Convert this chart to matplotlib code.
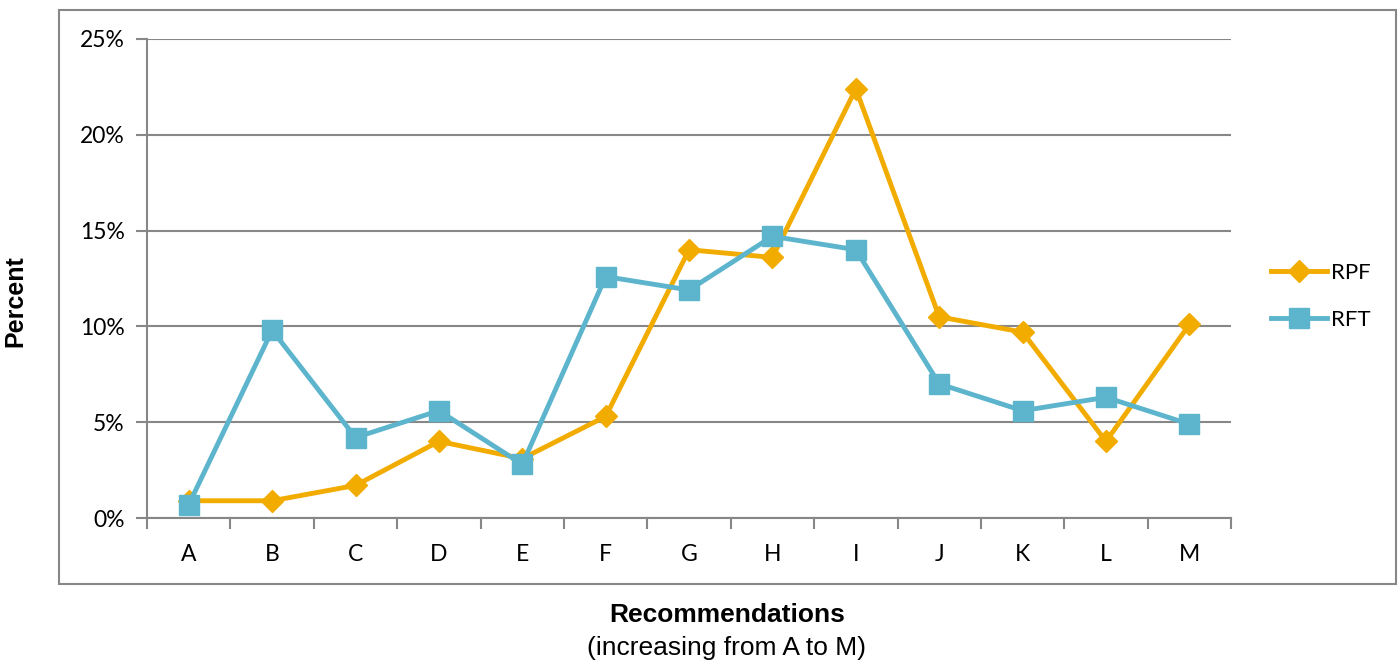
import matplotlib
matplotlib.use("Agg")
import matplotlib.pyplot as plt
from matplotlib.patches import Rectangle
from matplotlib.ticker import FuncFormatter

# recommendation categories and share of responses (%)
categories = ['A', 'B', 'C', 'D', 'E', 'F', 'G', 'H', 'I', 'J', 'K', 'L', 'M']
rpf = [0.9, 0.9, 1.7, 4.0, 3.1, 5.3, 14.0, 13.6, 22.4, 10.5, 9.7, 4.0, 10.1]
rft = [0.7, 9.8, 4.2, 5.6, 2.8, 12.6, 11.9, 14.7, 14.0, 7.0, 5.6, 6.3, 4.9]
yticks = [0, 5, 10, 15, 20, 25]

orange = '#F2AC00'
blue = '#5DB5CD'
gray = '#878787'
tick_font = 'Lato'
label_font = 'Liberation Sans'

fig = plt.figure(figsize=(13.98, 6.63), dpi=100)
ax = fig.add_axes([0.1052, 0.2187, 0.7754, 0.7225])

# outer chart frame
fig.patches.append(Rectangle((0.0422, 0.1192), 0.9564, 0.8657, transform=fig.transFigure,
                             fill=False, edgecolor=gray, linewidth=1.5))

x = list(range(len(categories)))
ax.plot(x, rpf, color=orange, linewidth=3.5, marker='D', markersize=11,
        label='RPF', zorder=3)
ax.plot(x, rft, color=blue, linewidth=3.5, marker='s', markersize=14,
        label='RFT', zorder=4)

ax.set_xlim(-0.5, len(categories) - 0.5)
ax.set_ylim(0, 25)
ax.set_yticks(yticks)
ax.yaxis.set_major_formatter(FuncFormatter(lambda v, p: '%d%%' % v))
ax.set_xticks(x)
ax.set_xticklabels(categories)
ax.set_xticks([i - 0.5 for i in range(len(categories) + 1)], minor=True)

ax.tick_params(axis='x', which='major', length=0, pad=19, labelsize=16.5)
ax.tick_params(axis='x', which='minor', length=8, width=1.5, color=gray)
ax.tick_params(axis='y', length=8, width=1.5, color=gray, pad=8, labelsize=16.5)
for lab in ax.get_xticklabels() + ax.get_yticklabels():
    lab.set_fontfamily(tick_font)

ax.grid(axis='y', color=gray, linewidth=1.5, zorder=0)
ax.set_axisbelow(True)
for side in ['top', 'right']:
    ax.spines[side].set_visible(False)
for side in ['left', 'bottom']:
    ax.spines[side].set_color(gray)
    ax.spines[side].set_linewidth(1.5)

leg = ax.legend(loc='center left', bbox_to_anchor=(0.9015, 0.553),
                bbox_transform=fig.transFigure, frameon=False, handlelength=2.5,
                handletextpad=0.2, labelspacing=1.2, borderpad=0,
                prop={'family': tick_font, 'size': 16})

fig.text(0.0107, 0.546, 'Percent', rotation=90, ha='center', va='center',
         fontsize=18, fontweight='bold', family=label_font)
fig.text(0.520, 0.0724, 'Recommendations', ha='center', va='center',
         fontsize=19, fontweight='bold', family=label_font)
fig.text(0.520, 0.0226, '(increasing from A to M)', ha='center', va='center',
         fontsize=19, family=label_font)

fig.savefig('out.png', dpi=100)
